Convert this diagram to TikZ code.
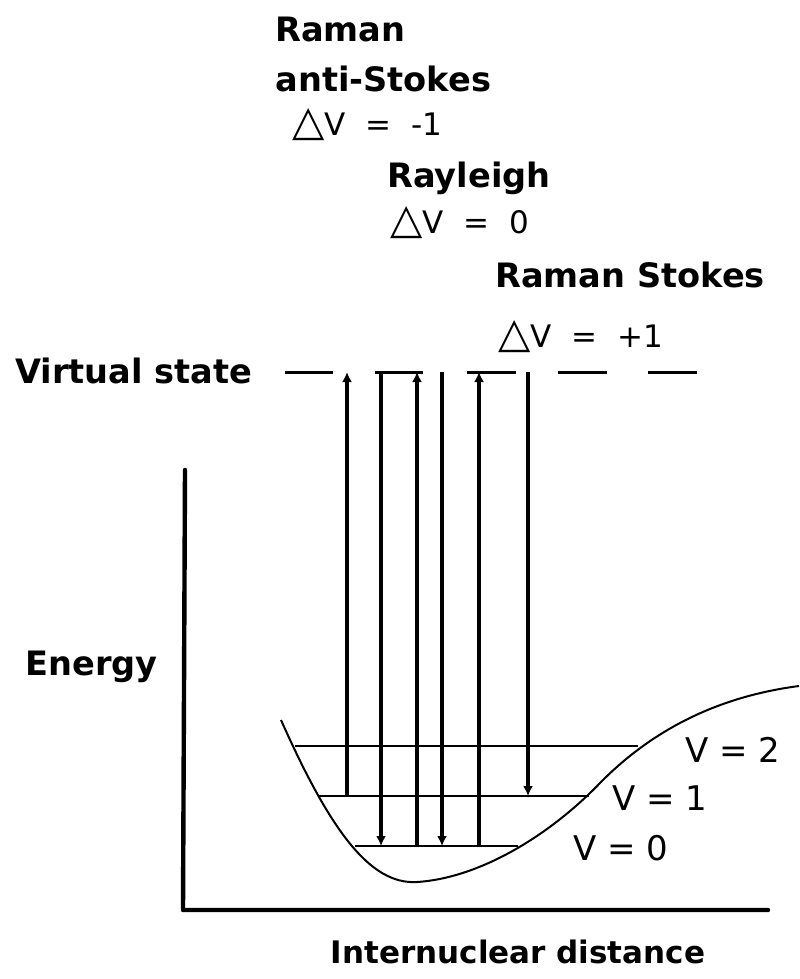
\documentclass[tikz,border=0pt]{standalone}
\usepackage{fontspec}
\setmainfont{DejaVu Sans}
\usepackage{tikz}
\usetikzlibrary{arrows.meta}
\newcommand{\dvsym}{{\fontsize{21}{20}\selectfont △}V}
\tikzstyle{namelbl}=[font=\fontsize{16.8}{18}\selectfont\bfseries,
  anchor=base west,inner sep=0pt]
\tikzstyle{dvlbl}=[font=\fontsize{15.5}{18}\selectfont,anchor=base west,inner sep=0pt]
\tikzstyle{vlbl}=[font=\fontsize{17}{20}\selectfont,anchor=base west,inner sep=0pt]
\tikzstyle{level}=[line width=1pt]
\tikzstyle{axisline}=[line width=2.2pt,line cap=round,line join=round]
\tikzstyle{vdash}=[line width=1.5pt]
\tikzstyle{arr}=[line width=2pt,-{Latex[length=5pt,width=5pt]}]

\begin{document}
\begin{tikzpicture}[x=0.5pt,y=-0.5pt]
  \useasboundingbox (0,0) rectangle (799,979);
  % labels
  \node[namelbl] (ram1) at (275,42) {Raman};
  \node[namelbl] (anti) at (275,92) {anti-Stokes};
  \node[dvlbl] (dvm) at (292,135) {\dvsym\ \ =\ \ -1};
  \node[namelbl] (rayl) at (387,187) {Rayleigh};
  \node[dvlbl] (dvz) at (390,233) {\dvsym\ \ =\ \ 0};
  \node[namelbl] (ram2) at (495,287) {Raman Stokes};
  \node[dvlbl] (dvp) at (498,347) {\dvsym\ \ =\ \ +1};
  \node[namelbl] (virt) at (15,383) {Virtual state};
  \node[namelbl] (ener) at (25,675) {Energy};
  \node[namelbl,anchor=base,font=\fontsize{15.5}{18}\selectfont\bfseries]
    (dist) at (518,963) {Internuclear distance};
  \node[vlbl] (v2) at (685,762) {V\ =\ 2};
  \node[vlbl] (v1) at (612,810) {V\ =\ 1};
  \node[vlbl] (v0) at (573,860) {V\ =\ 0};
  % axes
  \draw[axisline] (185,470) -- (183,910) -- (768,910);
  % potential curve
  \draw[level] (281,720) .. controls (330,830) and (370,885) .. (417,882)
    .. controls (480,878) and (550,835) .. (600,783)
    .. controls (660,722) and (730,695) .. (799,686);
  % vibrational levels
  \draw[level] (295,746) -- (638,746);
  \draw[level] (318,796) -- (589,796);
  \draw[level] (355,846) -- (518,846);
  % virtual state
  \foreach \a/\b in {285/333,375/423,467/516,558/607,648/697}
    \draw[vdash] (\a,372) -- (\b,372);
  % transitions
  \foreach \n/\x/\lev in {1/347/796,2/381/846,3/417/846,4/442/846,5/479/846,6/528/796}{
    \coordinate (vs\n) at (\x,372);
    \coordinate (lv\n) at (\x,\lev);
  }
  \draw[arr] (lv1) -- (vs1);
  \draw[arr] (vs2) -- (lv2);
  \draw[arr] (lv3) -- (vs3);
  \draw[arr] (vs4) -- (lv4);
  \draw[arr] (lv5) -- (vs5);
  \draw[arr] (vs6) -- (lv6);
\end{tikzpicture}
\end{document}
